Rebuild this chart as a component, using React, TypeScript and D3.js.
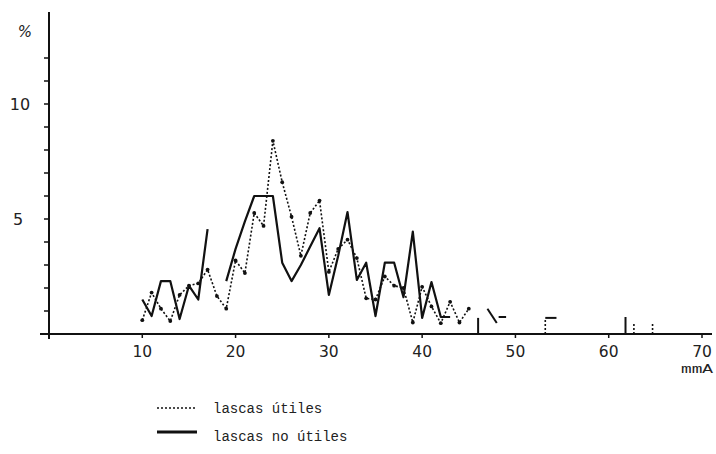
import React from "react";
import * as d3 from "d3";

// x values (mm) and percentages
const mmUtiles = [10, 11, 12, 13, 14, 15, 16, 17, 18, 19, 20, 21, 22, 23, 24, 25, 26, 27, 28, 29, 30, 31, 32, 33, 34, 35, 36, 37, 38, 39, 40, 41, 42, 43, 44, 45];
const pctUtiles = [0.6, 1.8, 1.1, 0.56, 1.7, 2.1, 2.2, 2.8, 1.65, 1.1, 3.2, 2.65, 5.26, 4.7, 8.4, 6.6, 5.1, 3.4, 5.26, 5.8, 2.7, 3.7, 4.1, 3.3, 1.55, 1.5, 2.5, 2.1, 2.0, 0.5, 2.05, 1.2, 0.47, 1.4, 0.5, 1.1];

const mmNoUtiles = [10, 11, 12, 13, 14, 15, 16, 17, 18, 19, 20, 21, 22, 23, 24, 25, 26, 27, 28, 29, 30, 31, 32, 33, 34, 35, 36, 37, 38, 39, 40, 41, 42, 43];
const pctNoUtiles: (number | null)[] = [1.5, 0.78, 2.3, 2.3, 0.65, 2.1, 1.5, 4.56, null, 2.3, 3.7, 4.9, 6, 6, 6, 3.1, 2.3, 3.0, 3.8, 4.6, 1.7, 3.4, 5.3, 2.35, 3.1, 0.78, 3.1, 3.1, 1.6, 4.45, 0.7, 2.26, 0.74, 0.74];

// isolated fragments beyond the main curves: [mm, %] pairs
const fragUtiles: [number, number][][] = [
  [[53.2, 0], [53.2, 0.7]],
  [[62.7, 0], [62.7, 0.5]],
  [[64.7, 0], [64.7, 0.5]],
];
const fragNoUtiles: [number, number][][] = [
  [[46, 0], [46, 0.7]],
  [[47, 1.1], [48, 0.48]],
  [[48.2, 0.74], [49, 0.74]],
  [[53.2, 0.7], [54.4, 0.7]],
  [[61.8, 0], [61.8, 0.74]],
];

const xTicks = [10, 20, 30, 40, 50, 60, 70];
const yTickLabels = [5, 10];
const yMinorTicks = [1, 2, 3, 4, 5, 6, 7, 8, 9, 10, 11, 12];
const legendLabels = ["lascas útiles", "lascas no útiles"];

export default function App() {
  const W = 716, H = 454;
  const x = d3.scaleLinear().domain([0, 70]).range([49, 702]);
  const y = d3.scaleLinear().domain([0, 10]).range([334, 104]);

  const line = d3
    .line<[number, number | null]>()
    .defined((d) => d[1] !== null)
    .x((d) => x(d[0]))
    .y((d) => y(d[1] as number));

  const utilesPts: [number, number | null][] = mmUtiles.map((m, i) => [m, pctUtiles[i]]);
  const noUtilesPts: [number, number | null][] = mmNoUtiles.map((m, i) => [m, pctNoUtiles[i]]);

  const tickFont = "'DejaVu Sans', sans-serif";
  const monoFont = "'Liberation Mono', 'DejaVu Sans Mono', monospace";

  return (
    <svg width={W} height={H} style={{ position: "absolute", left: 0, top: 0, background: "#fff" }}>
      {/* axes */}
      <line x1={x(0)} x2={x(0)} y1={y(14)} y2={y(0) + 5} stroke="#111" strokeWidth={2} />
      <line x1={40} x2={712} y1={y(0)} y2={y(0)} stroke="#111" strokeWidth={2} />
      {yMinorTicks.map((t) => (
        <line key={t} x1={x(0) - 5} x2={x(0)} y1={y(t)} y2={y(t)} stroke="#111" strokeWidth={1.5} />
      ))}
      {xTicks.map((t) => (
        <line key={t} x1={x(t)} x2={x(t)} y1={y(0)} y2={y(0) + 4} stroke="#111" strokeWidth={1.5} />
      ))}
      {yTickLabels.map((t) => (
        <text key={t} x={t === 10 ? 20 : 18} y={y(t)} dy="0.35em" textAnchor="middle" fontFamily={tickFont} fontSize={16} fill="#222">
          {t}
        </text>
      ))}
      <text x={25} y={32} dy="0.35em" textAnchor="middle" fontFamily={tickFont} fontSize={15} fontStyle="italic" fill="#222">%</text>
      {xTicks.map((t) => (
        <text key={t} x={x(t)} y={352} dy="0.35em" textAnchor="middle" fontFamily={tickFont} fontSize={15.5} fill="#222">
          {t}
        </text>
      ))}
      <text x={713} y={368} dy="0.35em" textAnchor="end" fontFamily={monoFont} fontSize={13} textLength={32} lengthAdjust="spacingAndGlyphs" fill="#222">mmA</text>

      {/* dotted series: lascas útiles */}
      <path d={line(utilesPts) || ""} fill="none" stroke="#111" strokeWidth={1.6} strokeDasharray="2,2" />
      {utilesPts.map((d, i) => (
        <circle key={i} cx={x(d[0])} cy={y(d[1] as number)} r={1.9} fill="#111" />
      ))}
      {fragUtiles.map((f, i) => (
        <path key={i} d={line(f) || ""} fill="none" stroke="#111" strokeWidth={1.6} strokeDasharray="2,2" />
      ))}

      {/* solid series: lascas no útiles */}
      <path d={line(noUtilesPts) || ""} fill="none" stroke="#111" strokeWidth={2.2} strokeLinejoin="round" />
      {fragNoUtiles.map((f, i) => (
        <path key={i} d={line(f) || ""} fill="none" stroke="#111" strokeWidth={2} />
      ))}

      {/* legend */}
      <line x1={157} x2={197} y1={408} y2={408} stroke="#111" strokeWidth={1.4} strokeDasharray="2,2" />
      <text x={213} y={408} dy="0.35em" fontFamily={monoFont} fontSize={14} fill="#222">{legendLabels[0]}</text>
      <line x1={157} x2={197} y1={432} y2={432} stroke="#111" strokeWidth={2.8} />
      <text x={213} y={436} dy="0.35em" fontFamily={monoFont} fontSize={14} fill="#222">{legendLabels[1]}</text>
    </svg>
  );
}
